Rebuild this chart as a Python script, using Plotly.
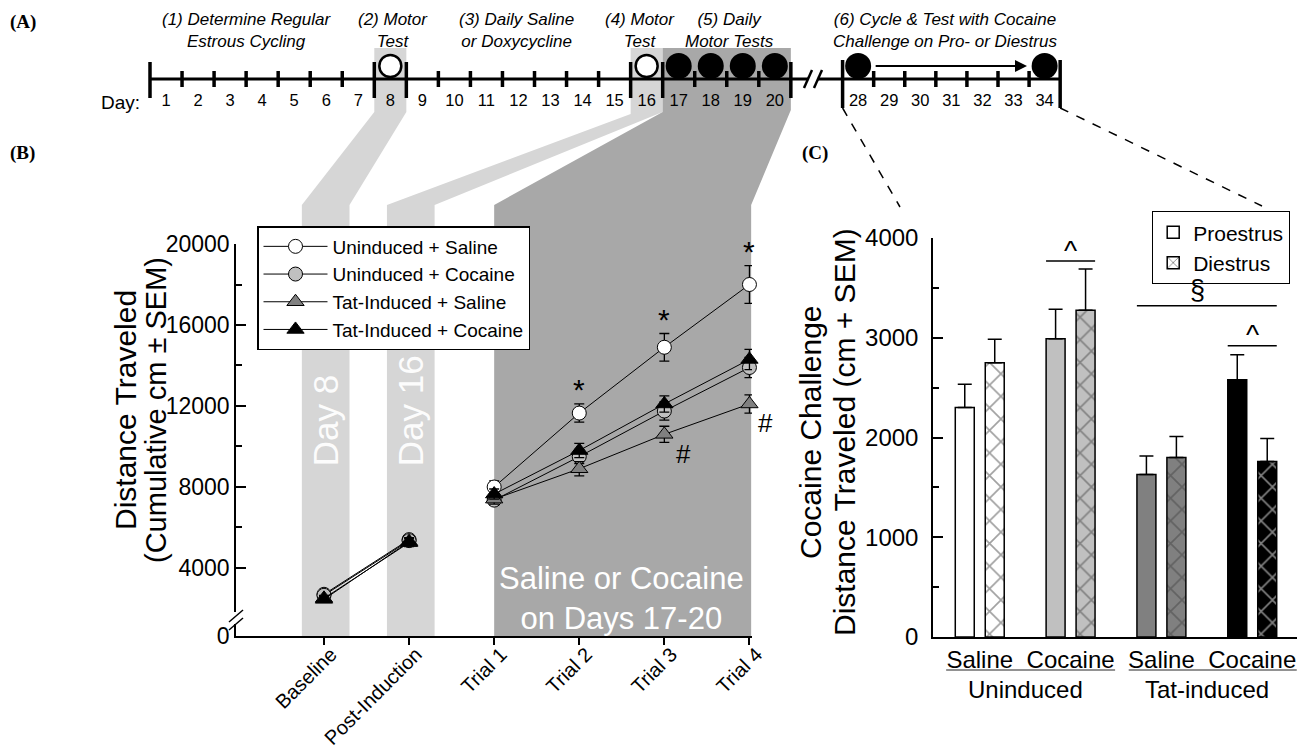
import plotly.graph_objects as go

W, H = 1313, 754
SANS = "Liberation Sans, Arial, Helvetica, sans-serif"
SERIF = "Liberation Serif, Times New Roman, serif"

# ---------------- Panel A: experimental timeline ----------------
phase1_days = list(range(1, 21))
phase2_days = list(range(28, 35))
open_test_days = [8, 16]
cocaine_test_days = [17, 18, 19, 20, 28, 34]
phase_titles = ["(1) Determine Regular<br>Estrous Cycling", "(2) Motor<br>Test",
                "(3) Daily Saline<br>or Doxycycline", "(4) Motor<br>Test",
                "(5) Daily<br>Motor Tests", "(6) Cycle & Test with Cocaine<br>Challenge on Pro- or Diestrus"]
phase_title_days = [3.53, 8.08, 11.95, 15.79, 18.57, 30.8]

# ---------------- Panel B: cumulative distance ----------------
timepoints = ["Baseline", "Post-Induction", "Trial 1", "Trial 2", "Trial 3", "Trial 4"]
uninduced_saline = [2700, 5400, 8000, 11650, 14900, 18000]
uninduced_saline_sem = [150, 200, 300, 450, 680, 930]
uninduced_cocaine = [2650, 5350, 7350, 9500, 11750, 13900]
uninduced_cocaine_sem = [150, 200, 250, 350, 450, 500]
tat_saline = [2500, 5250, 7400, 8900, 10600, 12100]
tat_saline_sem = [150, 200, 250, 350, 400, 450]
tat_cocaine = [2450, 5300, 7650, 9800, 12100, 14300]
tat_cocaine_sem = [150, 200, 250, 350, 400, 500]
b_yticks = [4000, 8000, 12000, 16000, 20000]

# ---------------- Panel C: cocaine challenge ----------------
treatments = ["Saline", "Cocaine", "Saline", "Cocaine"]
induction_groups = ["Uninduced", "Tat-induced"]
proestrus = [2300, 2990, 1630, 2580]
proestrus_sem = [235, 295, 185, 250]
diestrus = [2750, 3275, 1800, 1760]
diestrus_sem = [235, 415, 210, 230]
bar_colors = ["#ffffff", "#c0c0c0", "#808080", "#000000"]
hatch_colors = ["#000000", "#000000", "#000000", "#ffffff"]


# ---------------- helpers (pixel -> paper) ----------------
def X(p):
    return p / W


def Y(p):
    return 1 - p / H


A_L, A_R, A_S0, A_S1 = 150, 1060, 0.5, 28.9
A_SCALE = (A_R - A_L) / (A_S1 - A_S0)


def slot(d):
    return d if d <= 20.5 else 22.6 + (d - 28) * 0.97


def apx(s):
    return A_L + (s - A_S0) * A_SCALE


def aslot(p):
    return A_S0 + (p - A_L) / A_SCALE


B_X0, B_X1, B_TOP, B_BOT = 236, 752, 244, 636
B_RX = [-1.034, 5.03]
B_RY = [640, 20000]
C_X0, C_X1, C_TOP, C_BOT = 933, 1297, 238, 637
C_RX = [-0.5147, 3.4928]


def bpx(v):
    return B_X0 + (v - B_RX[0]) * (B_X1 - B_X0) / (B_RX[1] - B_RX[0])


def path(points):
    return "M " + " L ".join(f"{X(x):.5f},{Y(y):.5f}" for x, y in points) + " Z"


LIGHT = "#d6d6d6"
DARK = "#a8a8a8"
TL_Y = 79
CIRC_Y = 66
LAB_Y = 102

fig = go.Figure()

# ---------------- Panel B traces ----------------
series = [
    ("Uninduced + Saline", uninduced_saline, uninduced_saline_sem, "circle", "#ffffff", 14),
    ("Uninduced + Cocaine", uninduced_cocaine, uninduced_cocaine_sem, "circle", "#c0c0c0", 14),
    ("Tat-Induced + Saline", tat_saline, tat_saline_sem, "triangle-up", "#808080", 15),
    ("Tat-Induced + Cocaine", tat_cocaine, tat_cocaine_sem, "triangle-up", "#000000", 15),
]
xs = list(range(len(timepoints)))
for name, vals, sem, sym, col, size in series:
    xx = xs[:2] + [None] + xs[2:]
    yy = vals[:2] + [None] + vals[2:]
    ee = sem[:2] + [0] + sem[2:]
    fig.add_trace(go.Scatter(
        x=xx, y=yy, name=name, mode="lines+markers", connectgaps=False,
        line=dict(color="black", width=1),
        marker=dict(symbol=sym, size=size, color=col, line=dict(color="black", width=1)),
        error_y=dict(type="data", array=ee, color="black", thickness=1.3, width=5),
        xaxis="x", yaxis="y", legend="legend", cliponaxis=False,
    ))

# ---------------- Panel C traces ----------------
cx = list(range(len(treatments)))
fig.add_trace(go.Bar(
    x=cx, y=proestrus, name="Proestrus", xaxis="x2", yaxis="y2", legend="legend2",
    marker=dict(color=bar_colors, line=dict(color="black", width=1.5)),
    error_y=dict(type="data", symmetric=False, array=proestrus_sem, arrayminus=[0] * 4,
                 color="black", thickness=1.5, width=7),
))
fig.add_trace(go.Bar(
    x=cx, y=diestrus, name="Diestrus", xaxis="x2", yaxis="y2", legend="legend2",
    marker=dict(color=bar_colors, line=dict(color="black", width=1.5),
                pattern=dict(shape="x", fgcolor=hatch_colors, bgcolor=bar_colors,
                             size=16, solidity=0.2)),
    error_y=dict(type="data", symmetric=False, array=diestrus_sem, arrayminus=[0] * 4,
                 color="black", thickness=1.5, width=7),
))

# ---------------- Panel A traces ----------------
all_days = phase1_days + phase2_days
fig.add_trace(go.Scatter(
    x=[slot(d) for d in all_days], y=[LAB_Y] * len(all_days), text=[str(d) for d in all_days],
    mode="text", textfont=dict(family=SANS, size=16.5, color="black"),
    xaxis="x3", yaxis="y3", showlegend=False, hoverinfo="skip",
))
fig.add_trace(go.Scatter(
    x=[slot(d) for d in open_test_days], y=[CIRC_Y] * len(open_test_days), mode="markers",
    marker=dict(symbol="circle", size=22, color="white", line=dict(color="black", width=2.5)),
    xaxis="x3", yaxis="y3", showlegend=False, hoverinfo="skip",
))
fig.add_trace(go.Scatter(
    x=[slot(d) for d in cocaine_test_days], y=[CIRC_Y] * len(cocaine_test_days), mode="markers",
    marker=dict(symbol="circle", size=26, color="black", line=dict(color="black", width=0)),
    xaxis="x3", yaxis="y3", showlegend=False, hoverinfo="skip",
))

# ---------------- Shapes ----------------
shapes = []
shapes.append(dict(type="path", xref="paper", yref="paper", layer="below", line=dict(width=0),
                   fillcolor=LIGHT, path=path([
                       (apx(7.5), 48), (apx(8.5), 48), (apx(8.5), 112), (bpx(0.30), 205),
                       (bpx(0.30), B_BOT), (bpx(-0.26), B_BOT), (bpx(-0.26), 205), (apx(7.5), 112)])))
shapes.append(dict(type="path", xref="paper", yref="paper", layer="below", line=dict(width=0),
                   fillcolor=LIGHT, path=path([
                       (apx(15.5), 48), (apx(16.5), 48), (apx(16.5), 112), (bpx(1.30), 205),
                       (bpx(1.30), B_BOT), (bpx(0.74), B_BOT), (bpx(0.74), 205), (apx(15.5), 114)])))
shapes.append(dict(type="path", xref="paper", yref="paper", layer="below", line=dict(width=0),
                   fillcolor=DARK, path=path([
                       (apx(16.5), 48), (apx(20.5), 48), (apx(20.5), 110), (bpx(5.02), 205),
                       (bpx(5.02), B_BOT), (bpx(2.0), B_BOT), (bpx(2.0), 205), (apx(16.5), 112)])))
seg2_start = slot(28) - 0.485
seg2_end = slot(34) + 0.485
for (x0, y0, x1, y1) in [(apx(seg2_start), 108, 900, 207), (apx(seg2_end), 108, 1262, 206)]:
    shapes.append(dict(type="line", xref="paper", yref="paper", x0=X(x0), y0=Y(y0), x1=X(x1), y1=Y(y1),
                       line=dict(color="black", width=1.5, dash="dash")))


def a_line(x0, y0, x1, y1, w=3):
    shapes.append(dict(type="line", xref="x3", yref="y3", x0=x0, y0=y0, x1=x1, y1=y1,
                       layer="below", line=dict(color="black", width=w)))


a_line(0.5, TL_Y, aslot(808), TL_Y)
a_line(aslot(818), TL_Y, seg2_end, TL_Y)
a_line(aslot(804), TL_Y + 9, aslot(812), TL_Y - 9, 2.5)
a_line(aslot(814), TL_Y + 9, aslot(822), TL_Y - 9, 2.5)
big_bounds = [0.5, 7.5, 8.5, 15.5, 16.5, 20.5]
for b in big_bounds:
    a_line(b, TL_Y - 17, b, TL_Y + 19, 3.5)
for d in range(1, 20):
    b = d + 0.5
    if b not in big_bounds:
        a_line(b, TL_Y - 8, b, TL_Y + 8, 3.5)
for b in [seg2_start, seg2_end]:
    a_line(b, TL_Y - 19, b, TL_Y + 29, 3.5)
for d in range(28, 34):
    b = (slot(d) + slot(d + 1)) / 2
    a_line(b, TL_Y - 8, b, TL_Y + 8, 3.5)

# panel B axis break
shapes.append(dict(type="line", xref="paper", yref="paper", x0=X(B_X0), y0=Y(612), x1=X(B_X0), y1=Y(624),
                   line=dict(color="white", width=4)))
for yy in (622, 630):
    shapes.append(dict(type="line", xref="paper", yref="paper", x0=X(229), y0=Y(yy), x1=X(243), y1=Y(yy - 12),
                       line=dict(color="black", width=1.5)))

# panel C significance lines
for (x0, x1, yv) in [(1 - 0.27, 1 + 0.27, 3770), (2 - 0.27, 3 + 0.27, 3320), (3 - 0.27, 3 + 0.27, 2920)]:
    shapes.append(dict(type="line", xref="x2", yref="y2", x0=x0, x1=x1, y0=yv, y1=yv,
                       line=dict(color="black", width=1.5)))
for (x0, x1) in [(-0.37, 1.49), (1.64, 3.49)]:
    shapes.append(dict(type="line", xref="x2", yref="paper", x0=x0, x1=x1, y0=Y(670), y1=Y(670),
                       line=dict(color="#6e6e6e", width=1.5)))

# ---------------- Annotations ----------------
ann = []


def text(x, y, t, size, xref="paper", yref="paper", color="black", family=SANS, angle=0,
         xanchor="center", yanchor="middle", **kw):
    ann.append(dict(x=x, y=y, xref=xref, yref=yref, text=t, showarrow=False, textangle=angle,
                    font=dict(family=family, size=size, color=color),
                    xanchor=xanchor, yanchor=yanchor, **kw))


text(X(8), Y(22), "<b>(A)</b>", 19, family=SERIF, xanchor="left")
text(X(8), Y(153), "<b>(B)</b>", 19, family=SERIF, xanchor="left")
text(X(800), Y(153), "<b>(C)</b>", 19, family=SERIF, xanchor="left")

for t, d in zip(phase_titles, phase_title_days):
    text(slot(d), 30, f"<i>{t}</i>", 17, xref="x3", yref="y3")
text(X(120), Y(LAB_Y), "Day:", 19)
ann.append(dict(x=slot(34) - 0.55, y=CIRC_Y, ax=slot(28) + 0.5, ay=CIRC_Y, xref="x3", yref="y3",
                axref="x3", ayref="y3", showarrow=True, arrowhead=2, arrowsize=1.2, arrowwidth=2,
                arrowcolor="black", text=""))

text(0.02, Y(468), "Day 8", 35, xref="x", color="rgba(255,255,255,0.95)", angle=-90, yanchor="bottom")
text(1.02, Y(468), "Day 16", 35, xref="x", color="rgba(255,255,255,0.95)", angle=-90, yanchor="bottom")
text(3.5, Y(598), "Saline or Cocaine<br>on Days 17-20", 31, xref="x", color="white")
text(X(126), Y(410), "Distance Traveled", 30, angle=-90)
text(X(156), Y(410), "(Cumulative cm ± SEM)", 29, angle=-90)
for i in (3, 4, 5):
    text(i, uninduced_saline[i] + uninduced_saline_sem[i], "*", 30, xref="x", yref="y",
         yanchor="bottom", yshift=-4)
for i, (dx, dy) in zip((4, 5), ((19, -20), (16, -19))):
    text(i, tat_saline[i], "#", 26, xref="x", yref="y", xshift=dx, yshift=dy)

text(X(810), Y(432), "Cocaine Challenge", 30, angle=-90)
text(X(844), Y(432), "Distance Traveled (cm + SEM)", 30, angle=-90)
text(1, 3870, "^", 28, xref="x2", yref="y2")
text(2.4, 3480, "§", 27, xref="x2", yref="y2")
text(3, 3030, "^", 28, xref="x2", yref="y2")
text(0.5, Y(689), induction_groups[0], 24, xref="x2")
text(2.5, Y(689), induction_groups[1], 24, xref="x2")

# ---------------- Layout ----------------
axis_common = dict(showline=True, linecolor="black", linewidth=1.5, showgrid=False, zeroline=False,
                   automargin=False, tickcolor="black", tickwidth=1.5)

fig.update_layout(
    width=W, height=H, margin=dict(l=0, r=0, t=0, b=0, autoexpand=False), autosize=False,
    paper_bgcolor="white", plot_bgcolor="rgba(0,0,0,0)",
    font=dict(family=SANS, color="black"),
    barmode="group", bargap=0.34, bargroupgap=0.367,
    xaxis=dict(domain=[X(B_X0), X(B_X1)], range=B_RX, anchor="y", tickvals=xs, ticktext=timepoints,
               tickangle=-45, ticks="outside", ticklen=7, tickfont=dict(family=SANS, size=20),
               ticklabelstandoff=-10, ticklabelshift=7, **axis_common),
    yaxis=dict(domain=[Y(B_BOT), Y(B_TOP)], range=B_RY, anchor="x",
               tickvals=[B_RY[0]] + b_yticks, ticktext=["0"] + [str(v) for v in b_yticks],
               ticks="inside", ticklen=10, ticklabelstandoff=0, tickfont=dict(family=SANS, size=23),
               minor=dict(tickvals=[6000, 10000, 14000, 18000], ticks="inside", ticklen=6,
                          tickcolor="black", tickwidth=1.5),
               **axis_common),
    xaxis2=dict(domain=[X(C_X0), X(C_X1)], range=C_RX, anchor="y2", tickvals=cx, ticktext=treatments,
                ticks="", ticklabelstandoff=0, tickfont=dict(family=SANS, size=24), **axis_common),
    yaxis2=dict(domain=[Y(C_BOT), Y(C_TOP)], range=[0, 4000], anchor="x2", dtick=1000,
                ticks="inside", ticklen=10, ticklabelstandoff=8, tickfont=dict(family=SANS, size=24),
                minor=dict(dtick=500, ticks="inside", ticklen=6, tickcolor="black", tickwidth=1.5),
                **axis_common),
    xaxis3=dict(domain=[X(100), X(1100)], range=[aslot(100), aslot(1100)], anchor="y3", visible=False,
                automargin=False),
    yaxis3=dict(domain=[Y(125), Y(0)], range=[125, 0], anchor="x3", visible=False, automargin=False),
    legend=dict(x=X(257), y=Y(226), xanchor="left", yanchor="top", bgcolor="white",
                bordercolor="black", borderwidth=1.5, font=dict(family=SANS, size=19),
                itemwidth=64, tracegroupgap=0),
    legend2=dict(x=X(1152), y=Y(211), xanchor="left", yanchor="top", bgcolor="white",
                 bordercolor="black", borderwidth=1.2, font=dict(family=SANS, size=21),
                 itemwidth=30, tracegroupgap=0),
    shapes=shapes,
    annotations=ann,
)

fig.write_html("out.html", config={"displayModeBar": False},
               post_script="document.body.style.margin='0';")
